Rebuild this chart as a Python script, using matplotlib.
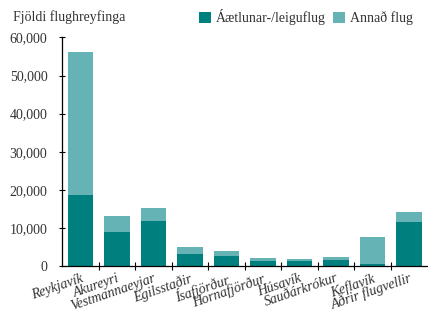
import numpy as np
import matplotlib
matplotlib.use("Agg")
from matplotlib import pyplot as plt

# Flughreyfingar eftir flugvöllum
airports = ["Reykjavík", "Akureyri", "Vestmannaeyjar", "Egilsstaðir", "Ísafjörður",
            "Hornafjörður", "Húsavík", "Sauðárkrókur", "Keflavík", "Aðrir flugvellir"]
scheduled = [18700, 9000, 11900, 3100, 2600, 1300, 1300, 1550, 520, 11650]
total = [56200, 13200, 15250, 4900, 3900, 2070, 1800, 2330, 7760, 14220]
other = [t - s for t, s in zip(total, scheduled)]

dark = "#007f7f"
light = "#66b3b6"
txt = "#333333"

plt.rcParams['font.family'] = ['Liberation Serif', 'DejaVu Serif']

fig = plt.figure(figsize=(4.28, 3.12), dpi=100)
ax = fig.add_axes([0.145, 0.147, 0.853, 0.733])

x = np.arange(len(airports))
ax.bar(x, scheduled, width=0.7, color=dark, label="Áætlunar-/leiguflug")
ax.bar(x, other, width=0.7, bottom=scheduled, color=light, label="Annað flug")

ax.set_xlim(-0.5, len(airports) - 0.5)
ax.set_ylim(0, 60000)
ax.set_yticks(range(0, 60001, 10000))
ax.set_yticklabels(["{:,}".format(v) for v in range(0, 60001, 10000)], fontsize=10, color=txt)

ax.set_xticks(x)
ax.set_xticklabels(airports, rotation=19, ha="right", rotation_mode="anchor",
                   fontsize=10, style="italic", color=txt)
ax.set_xticks(np.arange(0.5, len(airports) - 0.5), minor=True)
ax.tick_params(axis="x", which="major", length=0, pad=4)
ax.tick_params(axis="x", which="minor", direction="inout", length=6, width=0.8)
ax.tick_params(axis="y", direction="inout", length=5, width=0.8, pad=8)

for s in ["top", "right"]:
    ax.spines[s].set_visible(False)
ax.spines["left"].set_linewidth(0.9)
ax.spines["bottom"].set_linewidth(0.9)

fig.text(0.03, 0.945, "Fjöldi flughreyfinga", fontsize=10, color=txt, va="center")
fig.legend(loc="center right", bbox_to_anchor=(0.965, 0.945), ncol=2, frameon=False,
           fontsize=10, handlelength=0.9, handleheight=0.9, handletextpad=0.35,
           columnspacing=0.5, labelcolor=txt, borderaxespad=0, borderpad=0)

fig.savefig("out.png", dpi=100)
